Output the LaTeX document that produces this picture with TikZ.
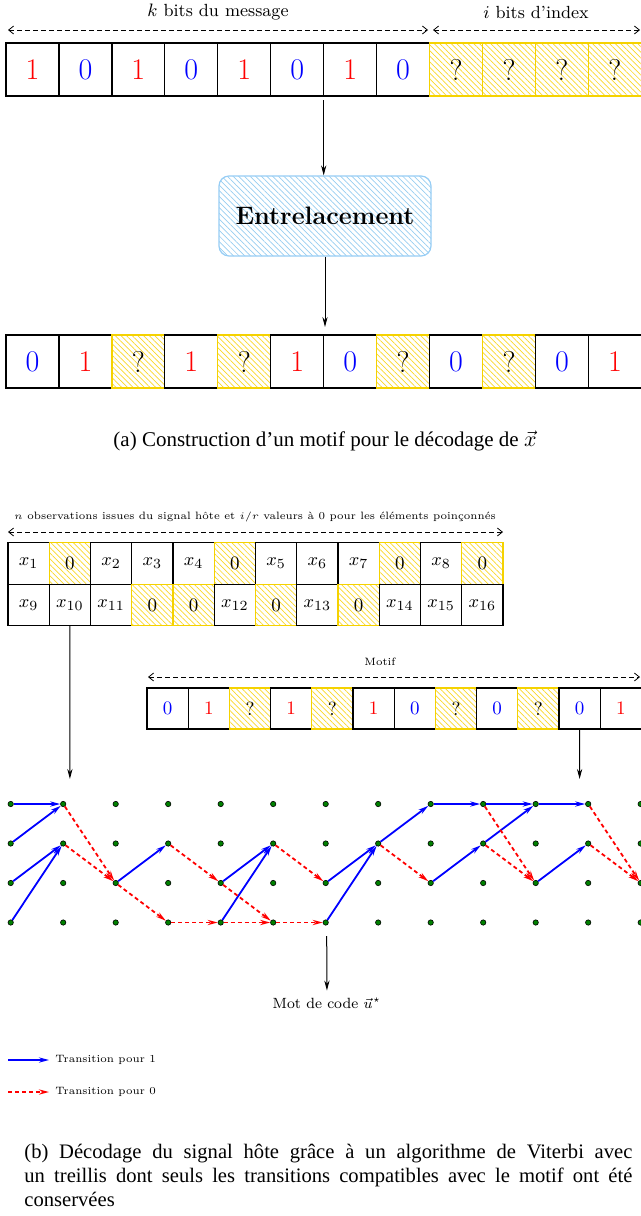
\documentclass[tikz,border=0pt]{standalone}
\usepackage{fontspec}
\newfontfamily\capfont{Liberation Serif}
\newfontfamily\lmsix{lmroman6-regular.otf}
\newfontfamily\lmeight{lmroman8-regular.otf}
\usetikzlibrary{arrows.meta,patterns.meta}
\definecolor{ycell}{RGB}{245,210,0}
\definecolor{yhatch}{RGB}{250,215,40}
\definecolor{bhatch}{RGB}{150,205,240}
\definecolor{bbord}{RGB}{150,205,245}
\definecolor{dotgreen}{RGB}{0,128,0}
\begin{document}
\begin{tikzpicture}[x=0.5pt,y=-0.5pt,
  cellbase/.style={draw=black,line width=0.6pt,inner sep=0pt,outer sep=0pt},
  bigcell/.style={cellbase,minimum width=26.47pt,minimum height=26.5pt,font=\fontsize{15}{18}\selectfont},
  smcell/.style={cellbase,minimum width=20.62pt,minimum height=20.75pt,font=\fontsize{9.5}{11}\selectfont},
  mocell/.style={cellbase,minimum width=20.6pt,minimum height=20.5pt,font=\fontsize{9.5}{11}\selectfont},
  cO/.style={text=red}, cZ/.style={text=blue}, cX/.style={},
  cQ/.style={draw=ycell,pattern={Lines[angle=-45,distance=2pt,line width=0.35pt]},pattern color=yhatch},
  cP/.style={cQ},
  dimarr/.style={line width=0.4pt,dash pattern=on 2.5pt off 1.5pt,{Straight Barb[length=2.5pt,width=4pt]}-{Straight Barb[length=2.5pt,width=4pt]}},
  blk/.style={line width=0.5pt,-{Stealth[length=5pt,width=2.6pt]}},
  dot/.style={circle,fill=dotgreen,draw=black,line width=0.3pt,minimum size=2.7pt,inner sep=0pt},
  eone/.style={blue,line width=0.9pt,-{Stealth[length=5pt,width=2.6pt]}},
  ezero/.style={red,line width=0.9pt,dash pattern=on 2pt off 1.5pt,-{Stealth[length=5pt,width=2.6pt]}},
  smalltxt/.style={font=\lmsix\fontsize{5.33}{6.5}\selectfont}
]
\useasboundingbox (0,0) rectangle (641,1216);

% ---------- (a) ----------
\node[font=\fontsize{8.8}{10}\selectfont] (lk) at (218,12) {$k$ bits du message};
\node[font=\fontsize{8.8}{10}\selectfont] (li) at (536,12) {$i$ bits d’index};
\coordinate (ka) at (8,30); \coordinate (kb) at (428,30);
\coordinate (ia) at (433,30); \coordinate (ib) at (640,30);
\draw[dimarr] (ka) -- (kb);
\draw[dimarr] (ia) -- (ib);

\foreach \s/\t [count=\i from 0] in {cO/1,cZ/0,cO/1,cZ/0,cO/1,cZ/0,cO/1,cZ/0,cQ/?,cQ/?,cQ/?,cQ/?}
  \node[bigcell,\s] (a\i) at ({6+52.95*(\i+0.5)},69.5) {\t};

\node[draw=bbord,line width=0.6pt,rounded corners=5pt,
  pattern={Lines[angle=-45,distance=2pt,line width=0.35pt]},pattern color=bhatch,
  minimum width=106pt,minimum height=40pt,
  font=\fontsize{12.6}{15}\selectfont\bfseries] (ent) at (325,216) {Entrelacement};

\draw[blk,shorten <=2pt] (a5.south east) -- (a5.south east |- ent.north);

\foreach \s/\t [count=\i from 0] in {cZ/0,cO/1,cQ/?,cO/1,cQ/?,cO/1,cZ/0,cQ/?,cZ/0,cQ/?,cZ/0,cO/1}
  \node[bigcell,\s] (b\i) at ({6+52.95*(\i+0.5)},361.5) {\t};

\draw[blk,shorten >=4pt] (ent.south) -- (ent.south |- b0.north);

\node[font=\capfont\fontsize{10.5}{12.6}\selectfont] (capa) at (325,441)
  {(a) Construction d’un motif pour le décodage de $\vec{x}$};

% ---------- (b) ----------
\node[smalltxt] (lobs) at (255,517)
  {$n$ observations issues du signal hôte et $i/r$ valeurs à 0 pour les éléments poinçonnés};
\coordinate (oa) at (8,532); \coordinate (ob) at (503,532);
\draw[dimarr] (oa) -- (ob);

\foreach \s/\t [count=\i from 0] in {cX/$x_1$,cP/0,cX/$x_2$,cX/$x_3$,cX/$x_4$,cP/0,cX/$x_5$,cX/$x_6$,cX/$x_7$,cP/0,cX/$x_8$,cP/0}
  \node[smcell,\s] (r\i) at ({8+41.25*(\i+0.5)},563.5) {\t};
\foreach \s/\t [count=\i from 0] in {cX/$x_9$,cX/$x_{10}$,cX/$x_{11}$,cP/0,cP/0,cX/$x_{12}$,cP/0,cX/$x_{13}$,cP/0,cX/$x_{14}$,cX/$x_{15}$,cX/$x_{16}$}
  \node[smcell,\s] (s\i) at ({8+41.25*(\i+0.5)},605) {\t};

\node[smalltxt] (lmot) at (380,662) {Motif};
\coordinate (ma) at (148,677); \coordinate (mb) at (640,677);
\draw[dimarr] (ma) -- (mb);
\foreach \s/\t [count=\i from 0] in {cZ/0,cO/1,cQ/?,cO/1,cQ/?,cO/1,cZ/0,cQ/?,cZ/0,cQ/?,cZ/0,cO/1}
  \node[mocell,\s] (m\i) at ({147+41.2*(\i+0.5)},708.5) {\t};

\coordinate (x10end) at (69.9,779);
\coordinate (motend) at (579.6,779);
\draw[blk] (s1.south) -- (x10end);
\draw[blk] (m10.south) -- (motend);

% trellis
\foreach \c in {0,...,12}
  \foreach \r in {0,...,3}
    \node[dot] (t\c-\r) at ({10.7+52.5*\c},{804+39.5*\r}) {};

\foreach \a/\b/\c/\d in {0/0/1/0,0/1/1/0,0/2/1/1,0/3/1/1,2/2/3/1,4/2/5/1,4/3/5/1,6/2/7/1,6/3/7/1,7/1/8/0,8/0/9/0,8/2/9/1,9/0/10/0,9/1/10/0,10/0/11/0,10/2/11/1}
  \draw[eone] (t\a-\b) -- (t\c-\d);
\foreach \a/\b/\c/\d in {1/0/2/2,1/1/2/2,2/2/3/3,3/1/4/2,4/2/5/3,3/3/4/3,4/3/5/3,5/3/6/3,5/1/6/2,7/1/8/2,9/0/10/2,9/1/10/2,11/0/12/2,11/1/12/2}
  \draw[ezero] (t\a-\b) -- (t\c-\d);

\coordinate (mcs) at (326.7,936);
\node[font=\lmeight\fontsize{7.4}{9}\selectfont] (mc) at (327,1003) {Mot de code $\vec{u}^{\star}$};
\draw[blk] (mcs) -- (mc);

% legend
\coordinate (l1s) at (8,1060);
\node[smalltxt,anchor=west,inner sep=1pt] (l1) at (53,1060) {Transition pour 1};
\draw[eone,shorten >=2pt] (l1s) -- (l1.west);
\coordinate (l0s) at (8,1092);
\node[smalltxt,anchor=west,inner sep=1pt] (l0) at (53,1092) {Transition pour 0};
\draw[ezero,shorten >=2pt] (l0s) -- (l0.west);

\node[anchor=north west,inner sep=0pt,text width=304pt,align=justify,
  font=\capfont\fontsize{10.3}{12}\selectfont] (capb) at (24,1144)
  {(b) Décodage du signal hôte grâce à un algorithme de Viterbi avec\linebreak
   un treillis dont seuls les transitions compatibles avec le motif ont été\linebreak
   conservées};
\end{tikzpicture}
\end{document}
